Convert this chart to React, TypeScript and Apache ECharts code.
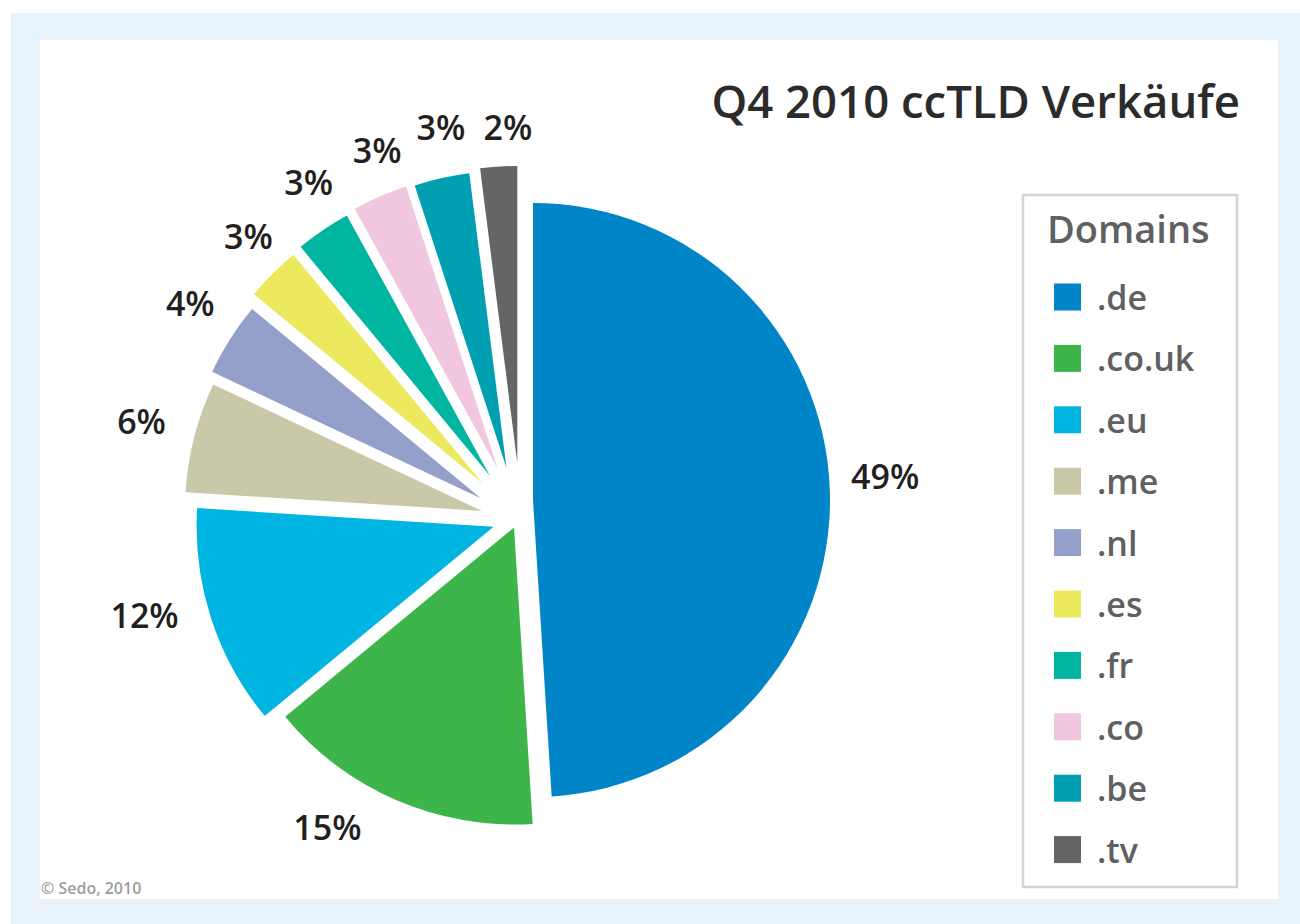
import React, { useEffect, useRef } from "react";
import * as echarts from "echarts";

// ---- data ----
const domains = [".de", ".co.uk", ".eu", ".me", ".nl", ".es", ".fr", ".co", ".be", ".tv"];
const shares = [49, 15, 12, 6, 4, 3, 3, 3, 3, 2];
const chartTitle = "Q4 2010 ccTLD Verkäufe";
const legendTitle = "Domains";
const credit = "© Sedo, 2010";

// ---- style / layout ----
const colors = [
  "#0085c8", "#3db54a", "#00b5e2", "#c9c9aa", "#949fca",
  "#ece95f", "#00b6a1", "#f0c7de", "#009fb2", "#646665",
];
const pieCenter = [505, 497];
// explosion offset of every slice (px) relative to the pie centre
const sliceOffsets = [
  [28, 3], [9, 30.5], [-11.4, 29.7], [-23.1, 13.9], [-24.2, 1.2],
  [-22.3, -13.5], [-15.1, -21.3], [-7.2, -28], [1.5, -29], [12.3, -34],
];
const pieRadius = 297;
// label placement: distance from the slice tip and clockwise angle nudge (deg)
const labelRadius = [350, 350, 357, 349, 347, 338, 342, 338, 344, 333];
const labelAngleShift = [-2.1, 8.5, 3.8, 0.4, 1.5, 1.6, 2.5, 2.7, 1.7, 2.0];
const FONT = "'Open Sans'";

export default function App() {
  const ref = useRef<HTMLDivElement>(null);
  useEffect(() => {
    if (!ref.current) return;
    const chart = echarts.init(ref.current, undefined, { renderer: "svg" });
    const centers = sliceOffsets.map((o) => [pieCenter[0] + o[0], pieCenter[1] + o[1]]);

    const sliceSeries = domains.map((_, i) => ({
      type: "pie",
      silent: true,
      center: centers[i],
      radius: [0, pieRadius],
      startAngle: 90,
      clockwise: true,
      avoidLabelOverlap: false,
      label: { show: false },
      labelLine: { show: false },
      emphasis: { disabled: true },
      z: 3,
      data: domains.map((n, j) => ({
        name: n,
        value: shares[j],
        itemStyle: { color: j === i ? colors[j] : "rgba(0,0,0,0)" },
      })),
    }));

    const labelSeries = domains.map((_, i) => ({
      type: "pie",
      silent: true,
      center: centers[i],
      radius: [labelRadius[i] - 12, labelRadius[i] + 12],
      startAngle: 90 - labelAngleShift[i],
      clockwise: true,
      avoidLabelOverlap: false,
      labelLine: { show: false },
      emphasis: { disabled: true },
      z: 4,
      data: domains.map((n, j) => ({
        name: n,
        value: shares[j],
        itemStyle: { color: "rgba(0,0,0,0)" },
        label:
          j === i
            ? {
                show: true,
                position: "inside",
                formatter: (p: any) => p.value + "%",
                fontFamily: FONT,
                fontWeight: 600,
                fontSize: 34,
                color: "#231f20",
              }
            : { show: false },
      })),
    }));

    chart.setOption({
      animation: false,
      backgroundColor: "#ffffff",
      title: {
        text: chartTitle,
        right: 60,
        top: 77,
        padding: 0,
        textStyle: { fontFamily: FONT, fontWeight: 600, fontSize: 45.5, color: "#2b2b2b" },
      },
      legend: {
        orient: "vertical",
        left: 1054,
        top: 280,
        padding: 0,
        itemWidth: 27,
        itemHeight: 27,
        itemGap: 27.4,
        icon: "rect",
        selectedMode: false,
        data: domains.map((n, i) => ({ name: n, itemStyle: { color: colors[i] } })),
        textStyle: {
          fontFamily: FONT,
          fontWeight: 600,
          fontSize: 34,
          lineHeight: 34,
          color: "#5f6062",
          padding: [0, 0, 0, 11],
        },
      },
      graphic: [
        { type: "rect", z: 0, silent: true, shape: { x: 11, y: 13, width: 1289, height: 911 }, style: { fill: "#e7f2fa" } },
        { type: "rect", z: 0, silent: true, shape: { x: 40, y: 40, width: 1238, height: 859 }, style: { fill: "#ffffff" } },
        { type: "rect", z: 1, silent: true, shape: { x: 1023, y: 195, width: 214, height: 692 }, style: { fill: "#ffffff", stroke: "#d3d3d3", lineWidth: 2.5 } },
        { type: "text", z: 1, silent: true, x: 1047, y: 228, style: { text: legendTitle, font: `600 38px ${FONT}`, fill: "#5f6062", verticalAlign: "middle", align: "left" } },
        { type: "text", z: 1, silent: true, x: 41, y: 888, style: { text: credit, font: `600 16px ${FONT}`, fill: "#9d9d9d", verticalAlign: "middle", align: "left" } },
      ],
      series: [...sliceSeries, ...labelSeries],
    });
    return () => chart.dispose();
  }, []);
  return <div ref={ref} style={{ position: "absolute", left: 0, top: 0, width: 1300, height: 924 }} />;
}
